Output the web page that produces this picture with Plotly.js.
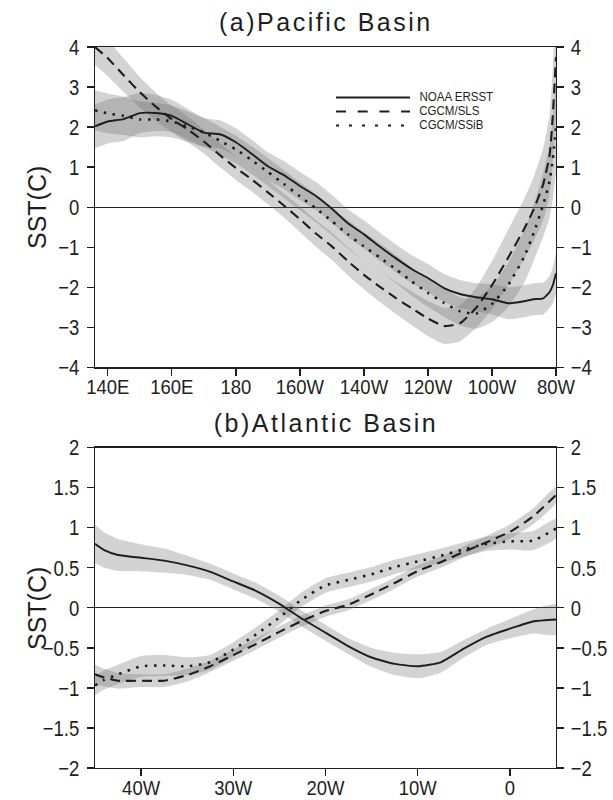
<!DOCTYPE html>
<html><head><meta charset="utf-8">
<script src="https://cdn.plot.ly/plotly-3.0.1.min.js"></script>
<style>body{margin:0;background:#fff}#chart{width:613px;height:800px}</style>
</head><body><div id="chart"></div>
<script>
const seriesNames = ['NOAA ERSST', 'CGCM/SLS', 'CGCM/SSiB'];
const panelTitles = ['(a)Pacific Basin', '(b)Atlantic Basin'];
const yTitle = 'SST(C)';

// Pacific basin (longitude in degrees east)
const pacLon  = [136,140,145,150,155,160,165,170,175,180,185,190,195,200,205,210,215,220,225,230,235,240,245,250,255,260,265,270,273,276,278,279,280];
const pacNOAA = [2.02,2.14,2.20,2.35,2.35,2.28,2.07,1.86,1.82,1.62,1.33,1.02,0.80,0.53,0.28,-0.04,-0.40,-0.68,-0.99,-1.28,-1.55,-1.77,-2.02,-2.17,-2.25,-2.30,-2.40,-2.35,-2.30,-2.28,-2.12,-1.95,-1.65];
const pacSLS  = [4.00,3.72,3.29,2.87,2.51,2.20,1.94,1.64,1.30,0.98,0.69,0.37,0.04,-0.30,-0.66,-0.98,-1.35,-1.69,-1.99,-2.27,-2.53,-2.78,-2.97,-2.90,-2.52,-1.95,-1.27,-0.55,-0.06,0.57,1.30,2.30,3.75];
const pacSSiB = [2.42,2.34,2.28,2.19,2.19,2.14,2.01,1.87,1.66,1.44,1.17,0.88,0.58,0.27,-0.03,-0.35,-0.68,-0.98,-1.26,-1.55,-1.86,-2.14,-2.39,-2.60,-2.66,-2.42,-1.95,-1.25,-0.65,0.06,0.65,1.20,2.00];
const pacNOAAspread = [0.55,0.55,0.55,0.50,0.45,0.40,0.38,0.36,0.35,0.35,0.35,0.35,0.35,0.35,0.35,0.35,0.35,0.35,0.35,0.35,0.35,0.35,0.35,0.35,0.35,0.38,0.40,0.40,0.40,0.40,0.40,0.45,0.50];
const pacSLSspread  = [0.45,0.45,0.42,0.38,0.35,0.33,0.32,0.30,0.30,0.30,0.30,0.30,0.30,0.32,0.33,0.34,0.35,0.36,0.38,0.40,0.42,0.44,0.45,0.45,0.50,0.60,0.70,0.75,0.80,0.90,1.00,1.20,1.40];
const pacSSiBspread = [0.50,0.50,0.48,0.45,0.42,0.40,0.38,0.36,0.35,0.35,0.35,0.35,0.35,0.35,0.35,0.35,0.35,0.35,0.35,0.35,0.35,0.35,0.35,0.35,0.38,0.45,0.55,0.65,0.70,0.80,0.90,1.00,1.10];
const pacTickVals = [140,160,180,200,220,240,260,280];
const pacTickText = ['140E','160E','180','160W','140W','120W','100W','80W'];

// Atlantic basin (longitude, negative = west)
const atlLon  = [-45,-44,-42.5,-40,-37.5,-35,-32.5,-30,-27.5,-25,-22.5,-20,-17.5,-15,-12.5,-10,-7.5,-5,-2.5,0,2.5,5];
const atlNOAA = [0.80,0.72,0.66,0.625,0.59,0.53,0.45,0.33,0.21,0.05,-0.14,-0.31,-0.48,-0.62,-0.70,-0.73,-0.68,-0.51,-0.36,-0.26,-0.17,-0.145];
const atlSLS  = [-0.83,-0.87,-0.91,-0.91,-0.91,-0.84,-0.73,-0.59,-0.45,-0.30,-0.16,-0.04,0.04,0.17,0.31,0.46,0.57,0.70,0.82,0.95,1.14,1.41];
const atlSSiB = [-0.97,-0.90,-0.83,-0.73,-0.72,-0.73,-0.68,-0.52,-0.33,-0.12,0.11,0.28,0.35,0.42,0.51,0.58,0.65,0.73,0.80,0.83,0.84,0.99];
const atlNOAAspread = [0.24,0.22,0.20,0.17,0.15,0.12,0.10,0.10,0.10,0.10,0.10,0.10,0.10,0.12,0.14,0.15,0.13,0.11,0.10,0.12,0.15,0.19];
const atlSLSspread  = [0.12,0.11,0.10,0.08,0.08,0.08,0.07,0.07,0.07,0.07,0.07,0.07,0.07,0.07,0.07,0.07,0.07,0.07,0.08,0.09,0.10,0.10];
const atlSSiBspread = [0.12,0.12,0.12,0.13,0.13,0.11,0.09,0.09,0.09,0.09,0.09,0.09,0.09,0.09,0.09,0.09,0.09,0.09,0.09,0.10,0.12,0.12];
const atlTickVals = [-40,-30,-20,-10,0];
const atlTickText = ['40W','30W','20W','10W','0'];

const INK = '#1e1e1e';
const BAND = 'rgba(110,110,110,0.30)';
const lineStyles = [
  {color: INK, width: 1.9, dash: 'solid'},
  {color: INK, width: 2.1, dash: '10px,6px'},
  {color: INK, width: 2.6, dash: '2.5px,6.5px'}
];
const sans = 'Liberation Sans, Arial, sans-serif';
const tickFont = {family: sans, size: 22, color: INK};
const xTickFont = {family: sans, size: 21, color: INK};

function band(x, c, s, xa, ya) {
  const up = c.map((v, i) => v + s[i]);
  const lo = c.map((v, i) => v - s[i]);
  return {x: x.concat(x.slice().reverse()), y: up.concat(lo.slice().reverse()),
    type: 'scatter', mode: 'lines', fill: 'toself', fillcolor: BAND,
    line: {width: 0, color: 'rgba(0,0,0,0)', shape: 'spline', smoothing: 0.5},
    xaxis: xa, yaxis: ya, hoverinfo: 'skip', showlegend: false};
}
function curve(x, y, k, xa, ya) {
  return {x: x, y: y, type: 'scatter', mode: 'lines', name: seriesNames[k],
    line: Object.assign({shape: 'spline', smoothing: 0.5}, lineStyles[k]),
    xaxis: xa, yaxis: ya, showlegend: false};
}

const pacC = [pacNOAA, pacSLS, pacSSiB], pacS = [pacNOAAspread, pacSLSspread, pacSSiBspread];
const atlC = [atlNOAA, atlSLS, atlSSiB], atlS = [atlNOAAspread, atlSLSspread, atlSSiBspread];
const traces = [];
for (let k = 0; k < 3; k++) traces.push(band(pacLon, pacC[k], pacS[k], 'x', 'y'));
for (let k = 0; k < 3; k++) traces.push(band(atlLon, atlC[k], atlS[k], 'x2', 'y3'));
for (let k = 0; k < 3; k++) traces.push(curve(pacLon, pacC[k], k, 'x', 'y'));
for (let k = 0; k < 3; k++) traces.push(curve(atlLon, atlC[k], k, 'x2', 'y3'));
traces.push({x: [pacLon[0]], y: [null], xaxis: 'x', yaxis: 'y2', type: 'scatter', mode: 'lines', showlegend: false, hoverinfo: 'skip'});
traces.push({x: [atlLon[0]], y: [null], xaxis: 'x2', yaxis: 'y4', type: 'scatter', mode: 'lines', showlegend: false, hoverinfo: 'skip'});

const axBase = {showgrid: false, ticks: 'outside', ticklen: 7, tickwidth: 1.3, tickcolor: INK,
  showline: true, linecolor: INK, linewidth: 1.3, tickfont: tickFont, fixedrange: true};
function xax(range, vals, text, anchor) {
  return Object.assign({}, axBase, {domain: [0, 1], anchor: anchor, range: range, tickmode: 'array',
    tickvals: vals, ticktext: text, mirror: true, zeroline: false, tickfont: xTickFont, ticklabelstandoff: -7});
}
function yax(range, dtick, domain, anchor) {
  return Object.assign({}, axBase, {domain: domain, anchor: anchor, range: range, dtick: dtick, tick0: 0,
    mirror: true, zeroline: true, zerolinecolor: INK, zerolinewidth: 1.3, ticklabelstandoff: 3});
}
function yaxR(range, dtick, over, anchor) {
  return Object.assign({}, axBase, {overlaying: over, side: 'right', anchor: anchor, range: range,
    dtick: dtick, tick0: 0, zeroline: false, ticklabelstandoff: 2});
}

const M = {l: 95, r: 57, t: 47, b: 32};
const PW = 613 - M.l - M.r, PH = 800 - M.t - M.b;
const px = v => (v - M.l) / PW;
const py = v => (800 - M.b - v) / PH;

const titleFont = {family: sans, size: 25, color: INK};
const annotations = [
  {text: panelTitles[0], x: 0.5, y: py(22.4), xref: 'paper', yref: 'paper', xanchor: 'center', yanchor: 'middle', showarrow: false, font: titleFont},
  {text: panelTitles[1], x: 0.5, y: py(423), xref: 'paper', yref: 'paper', xanchor: 'center', yanchor: 'middle', showarrow: false, font: titleFont},
  {text: yTitle, x: px(37), y: py(207), xref: 'paper', yref: 'paper', xanchor: 'center', yanchor: 'middle', textangle: -90, showarrow: false, font: titleFont},
  {text: yTitle, x: px(37), y: py(608), xref: 'paper', yref: 'paper', xanchor: 'center', yanchor: 'middle', textangle: -90, showarrow: false, font: titleFont}
];
const legRows = [97.5, 111.5, 125.5];
const legDash = ['solid', '10px,11.7px', '3px,10px'];
const shapes = [];
for (let k = 0; k < 3; k++) {
  shapes.push({type: 'line', xref: 'paper', yref: 'paper', x0: px(336), x1: px(410), y0: py(legRows[k]), y1: py(legRows[k]),
    line: {color: INK, width: 2, dash: legDash[k]}});
  annotations.push({text: seriesNames[k], x: px(417), y: py(legRows[k]), xref: 'paper', yref: 'paper',
    xanchor: 'left', yanchor: 'middle', borderpad: 0, showarrow: false, font: {family: sans, size: 12, color: INK}});
}

const layout = {
  width: 613, height: 800, margin: M, paper_bgcolor: '#fff', plot_bgcolor: '#fff', showlegend: false,
  xaxis: xax([136, 280], pacTickVals, pacTickText, 'y'),
  yaxis: yax([-4, 4], 1, [py(367.3), 1], 'x'),
  yaxis2: yaxR([-4, 4], 1, 'y', 'x'),
  xaxis2: xax([-45, 5], atlTickVals, atlTickText, 'y3'),
  yaxis3: yax([-2, 2], 0.5, [0, py(447.7)], 'x2'),
  yaxis4: yaxR([-2, 2], 0.5, 'y3', 'x2'),
  annotations: annotations, shapes: shapes
};

// condensed lettering for tick labels and legend, wide spacing for panel titles
function condense(t, f) {
  const w = t.getComputedTextLength();
  t.setAttribute('lengthAdjust', 'spacingAndGlyphs');
  t.setAttribute('textLength', (w * f).toFixed(2));
}
function styleText() {
  document.querySelectorAll('.xtick text, .x2tick text').forEach(function (t) { condense(t, 0.88); });
  document.querySelectorAll('.ytick text, .y2tick text, .y3tick text, .y4tick text').forEach(function (t) { condense(t, 0.84); });
  document.querySelectorAll('.annotation-text').forEach(function (t) {
    if (panelTitles.indexOf(t.textContent) >= 0) t.style.letterSpacing = '2.5px';
    if (seriesNames.indexOf(t.textContent) >= 0) condense(t, 0.96);
  });
}
Plotly.newPlot('chart', traces, layout, {staticPlot: true}).then(styleText);
</script></body></html>
